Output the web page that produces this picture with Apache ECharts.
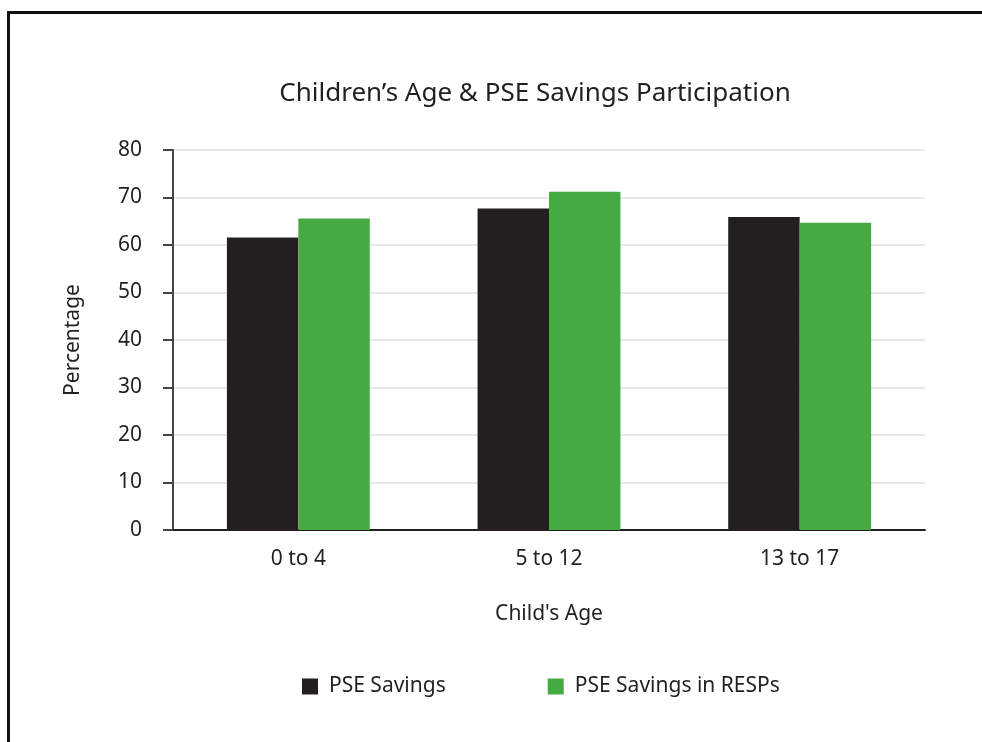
<!DOCTYPE html>
<html>
<head>
<meta charset="utf-8">
<script src="https://cdn.jsdelivr.net/npm/echarts@6/dist/echarts.min.js"></script>
<style>
html,body{margin:0;padding:0;background:#fff;}
#frame{position:absolute;left:7px;top:11px;width:990px;height:750px;border-left:3px solid #111;border-top:3px solid #111;box-sizing:border-box;}
#chart{position:absolute;left:0;top:0;width:982px;height:742px;}
</style>
</head>
<body>
<div id="frame"></div>
<div id="chart"></div>
<script>
const categories = ['0 to 4', '5 to 12', '13 to 17'];
const pseSavings = [61.6, 67.7, 65.9];
const pseSavingsResp = [65.6, 71.2, 64.7];
const seriesNames = ['PSE Savings', 'PSE Savings in RESPs'];
const yTicks = { min: 0, max: 80, interval: 10 };

const FONT = '"Noto Sans", "Open Sans", sans-serif';
const TXT = '#231f20';
const chart = echarts.init(document.getElementById('chart'), null, { renderer: 'canvas' });
chart.setOption({
  animation: false,
  backgroundColor: 'transparent',
  title: {
    text: "Children’s Age & PSE Savings Participation",
    left: 530, top: 76, textAlign: 'center',
    textStyle: { fontFamily: FONT, fontSize: 26, fontWeight: 'normal', color: TXT }
  },
  legend: {
    data: seriesNames,
    left: 297, top: 671,
    itemWidth: 16, itemHeight: 16, itemGap: 102,
    icon: 'rect',
    textStyle: { fontFamily: FONT, fontSize: 21, color: TXT, padding: [0, 0, 0, 6] }
  },
  grid: { left: 173, right: 57, top: 150, bottom: 212 },
  xAxis: {
    type: 'category',
    data: categories,
    name: "Child's Age",
    nameLocation: 'middle',
    nameGap: 74,
    nameTextStyle: { fontFamily: FONT, fontSize: 21, color: TXT },
    axisLine: { lineStyle: { color: TXT, width: 2 } },
    axisTick: { show: false },
    axisLabel: { fontFamily: FONT, fontSize: 21, color: TXT, margin: 19 }
  },
  yAxis: {
    type: 'value',
    min: yTicks.min, max: yTicks.max, interval: yTicks.interval,
    name: 'Percentage',
    nameLocation: 'middle',
    nameGap: 89,
    nameTextStyle: { fontFamily: FONT, fontSize: 21, color: TXT },
    axisLine: { show: true, lineStyle: { color: '#444', width: 2 } },
    axisTick: { show: true, length: 10, lineStyle: { color: '#444', width: 2 } },
    axisLabel: { fontFamily: FONT, fontSize: 21, color: TXT, margin: 31 },
    splitLine: { show: true, lineStyle: { color: '#e8e8e8', width: 2 } }
  },
  series: [
    {
      name: seriesNames[0], type: 'bar', data: pseSavings,
      barGap: '0%', barCategoryGap: '43%',
      itemStyle: { color: '#231f20' }
    },
    {
      name: seriesNames[1], type: 'bar', data: pseSavingsResp,
      barGap: '0%', barCategoryGap: '43%',
      itemStyle: { color: '#45aa42' }
    }
  ]
});
</script>
</body>
</html>
